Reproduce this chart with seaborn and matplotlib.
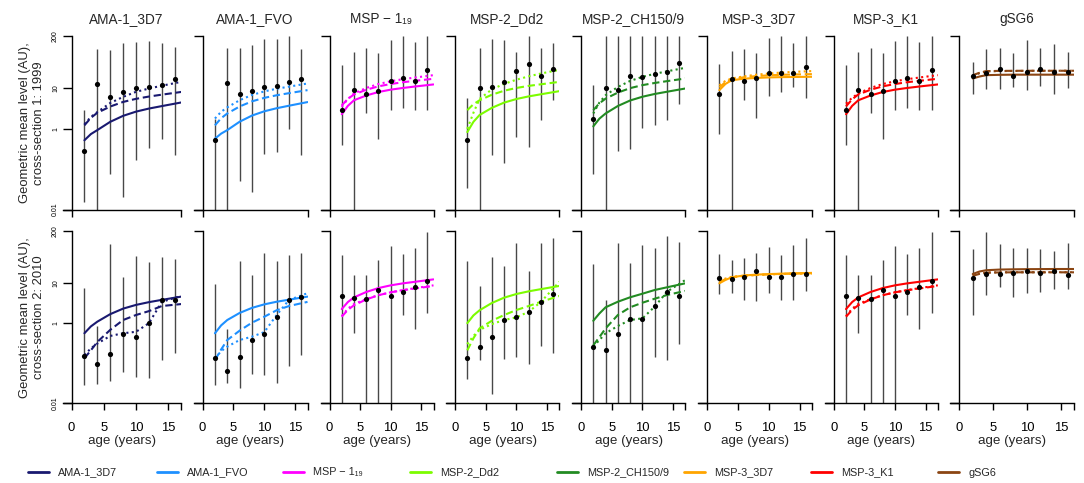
import matplotlib
matplotlib.use("Agg")
import matplotlib.pyplot as plt
from matplotlib.lines import Line2D
from matplotlib.ticker import NullLocator, FixedLocator
from matplotlib.transforms import blended_transform_factory
import seaborn as sns

# ---------------------------------------------------------------- data
antigens = ["AMA-1_3D7", "AMA-1_FVO", "MSP \u2212 1\u2081\u2089", "MSP-2_Dd2",
            "MSP-2_CH150/9", "MSP-3_3D7", "MSP-3_K1", "gSG6"]
colors = ["#191970", "#1E90FF", "#FF00FF", "#7CFC00",
          "#228B22", "#FFA500", "#FF0000", "#8B4513"]

age_groups = [2, 4, 6, 8, 10, 12, 14, 16]
fit_ages = [2, 3, 4, 6, 8, 10, 12, 14, 17]

# cross-section 1 (1999): geometric means and 95% ranges per age group
gm_1999 = [
    [0.29, 12.8, 6.0, 8.4, 10.0, 10.6, 12.0, 16.7],
    [0.52, 13.8, 7.2, 8.7, 10.6, 11.4, 14.1, 17.0],
    [3.0, 9.4, 7.5, 8.6, 15.5, 18.0, 14.9, 28.5],
    [0.52, 10.0, 10.6, 14.6, 27.0, 40.0, 19.9, 30.0],
    [1.8, 10.0, 9.1, 20.0, 19.0, 23.0, 26.0, 44.0],
    [7.3, 17.3, 15.2, 18.7, 24.4, 24.4, 24.4, 34.5],
    [3.0, 9.4, 7.5, 8.6, 15.5, 18.0, 14.9, 28.5],
    [20.6, 24.0, 29.6, 20.0, 25.0, 30.0, 26.0, 26.0],
]
lo_1999 = [
    [0.015, 0.01, 0.078, 0.021, 0.17, 0.34, 0.57, 0.23],
    [0.01, 0.01, 0.052, 0.027, 0.24, 0.26, 1.0, 0.22],
    [0.40, 0.01, 2.5, 0.57, 3.0, 3.2, 3.0, 2.9],
    [0.035, 0.01, 0.23, 0.145, 0.63, 0.35, 1.7, 5.1],
    [0.077, 0.01, 0.29, 0.32, 1.07, 1.27, 1.7, 4.2],
    [0.76, 0.01, 5.1, 1.86, 6.5, 8.2, 10.6, 5.8],
    [0.40, 0.01, 2.5, 0.57, 3.0, 3.2, 3.0, 2.9],
    [7.5, 9.6, 9.6, 10.6, 9.1, 11.4, 7.1, 10.0],
]
hi_1999 = [
    [2.9, 95, 90, 136, 145, 150, 131, 105],
    [1.8, 99, 99, 119, 166, 166, 200, 93],
    [38, 81, 99, 74, 158, 200, 145, 200],
    [5.8, 99, 166, 158, 81, 200, 103, 136],
    [12, 200, 200, 200, 200, 200, 200, 200],
    [40, 86, 93, 77, 175, 200, 131, 200],
    [38, 81, 99, 74, 150, 200, 145, 200],
    [45, 93, 103, 74, 158, 103, 126, 81],
]

# cross-section 2 (2010)
gm_2010 = [
    [0.154, 0.094, 0.173, 0.53, 0.44, 1.03, 3.9, 3.8],
    [0.133, 0.065, 0.146, 0.37, 0.53, 1.45, 3.9, 4.6],
    [4.8, 4.3, 4.0, 6.8, 4.8, 5.9, 7.9, 11.3],
    [0.133, 0.26, 0.46, 1.2, 1.4, 1.93, 3.3, 5.3],
    [0.26, 0.21, 0.53, 1.25, 1.27, 2.7, 5.9, 4.85],
    [13.7, 12.6, 14.5, 20.0, 14.5, 14.0, 16.9, 17.0],
    [4.8, 4.3, 4.0, 6.8, 4.8, 5.9, 7.9, 11.3],
    [13.2, 16.9, 17.0, 17.5, 20.0, 17.8, 20.0, 16.2],
]
lo_2010 = [
    [0.028, 0.030, 0.036, 0.059, 0.045, 0.042, 0.12, 0.18],
    [0.028, 0.033, 0.024, 0.054, 0.05, 0.033, 0.085, 0.16],
    [0.01, 0.56, 0.01, 0.01, 0.01, 1.6, 0.71, 1.76],
    [0.040, 0.12, 0.017, 0.126, 0.14, 0.095, 0.27, 0.18],
    [0.01, 0.01, 0.01, 0.01, 0.01, 0.14, 0.12, 0.30],
    [5.2, 5.8, 3.9, 3.6, 5.6, 3.9, 3.9, 6.5],
    [0.01, 0.56, 0.01, 0.01, 0.01, 1.6, 0.71, 1.76],
    [1.6, 5.0, 7.9, 4.6, 5.6, 6.1, 7.0, 7.0],
]
hi_2010 = [
    [7.4, 0.85, 93, 14, 47.5, 34, 46, 39],
    [9.5, 0.70, 36, 15.8, 57, 36, 50, 55],
    [50, 15.8, 15.8, 38, 86, 52, 74, 193],
    [35.5, 8.6, 46, 27, 99, 20, 99, 131],
    [30, 3.9, 99, 32, 91, 74, 150, 108],
    [53, 38, 42, 55, 78, 50, 89, 136],
    [50, 15.8, 15.6, 38, 86, 52, 74, 193],
    [70, 193, 93, 77, 74, 70, 63, 100],
]

# fitted curves evaluated at fit_ages (solid / dashed / dotted models)
solid_1999 = [
    [0.52, 0.74, 0.93, 1.49, 2.1, 2.67, 3.18, 3.66, 4.5],
    [0.57, 0.76, 0.93, 1.5, 2.13, 2.72, 3.24, 3.74, 4.6],
    [2.3, 3.71, 5.1, 6.7, 8.17, 9.35, 10.3, 11.2, 12.6],
    [0.83, 1.49, 2.2, 3.31, 4.47, 5.48, 6.37, 7.19, 8.6],
    [1.15, 1.79, 2.4, 3.68, 5.04, 6.24, 7.31, 8.3, 10.0],
    [9.1, 13.0, 16.0, 17.5, 18.3, 18.8, 19.1, 19.3, 19.5],
    [2.3, 3.71, 5.1, 6.7, 8.17, 9.35, 10.3, 11.2, 12.6],
    [17.7, 19.8, 21.4, 21.8, 22.0, 22.0, 22.0, 22.0, 22.0],
]
dashed_1999 = [
    [1.22, 1.87, 2.5, 3.57, 4.64, 5.54, 6.31, 7.03, 8.2],
    [1.22, 1.83, 2.4, 3.58, 4.8, 5.86, 6.79, 7.65, 9.1],
    [3.8, 5.53, 7.1, 9.29, 11.3, 12.9, 14.3, 15.5, 17.4],
    [2.9, 4.07, 5.1, 7.0, 8.8, 10.3, 11.6, 12.7, 14.6],
    [2.9, 4.3, 5.6, 7.9, 10.2, 12.1, 13.7, 15.2, 17.7],
    [10.6, 14.5, 17.0, 19.0, 20.3, 21.2, 21.8, 22.2, 22.7],
    [3.6, 5.4, 7.1, 9.29, 11.3, 12.9, 14.3, 15.5, 17.4],
    [21.4, 24.5, 27.0, 27.3, 27.4, 27.5, 27.5, 27.5, 27.5],
]
dotted_1999 = [
    [1.3, 1.97, 2.6, 4.36, 6.2, 8.26, 9.98, 11.7, 14.6],
    [1.8, 2.64, 3.4, 5.12, 6.9, 8.47, 9.86, 11.1, 13.3],
    [3.5, 5.5, 7.5, 10.3, 12.9, 15.1, 17.0, 18.7, 21.4],
    [1.0, 2.5, 5.5, 9.5, 13.0, 16.5, 20.0, 23.5, 29.0],
    [2.4, 4.49, 6.8, 10.9, 15.4, 19.4, 23.1, 26.6, 32.6],
    [12.0, 15.5, 17.7, 20.0, 22.0, 23.5, 24.8, 25.8, 27.0],
    [4.2, 5.9, 7.5, 10.3, 12.9, 15.1, 17.0, 18.7, 21.4],
    [20.5, 24.0, 26.5, 27.0, 27.2, 27.3, 27.4, 27.5, 27.5],
]
solid_2010 = [
    [0.56, 0.83, 1.09, 1.68, 2.31, 2.86, 3.35, 3.82, 4.6],
    [0.56, 0.88, 1.2, 1.8, 2.41, 2.95, 3.43, 3.86, 4.6],
    [2.25, 3.37, 4.4, 6.0, 7.53, 8.8, 9.86, 10.8, 12.4],
    [1.0, 1.56, 2.1, 3.19, 4.34, 5.35, 6.24, 7.08, 8.5],
    [1.15, 1.75, 2.49, 3.43, 4.43, 5.44, 6.73, 7.86, 9.9],
    [9.9, 12.0, 14.0, 15.5, 16.3, 16.8, 17.2, 17.5, 18.0],
    [2.25, 3.37, 4.4, 6.0, 7.53, 8.8, 9.86, 10.8, 12.4],
    [16.9, 19.5, 21.0, 21.8, 22.1, 22.3, 22.4, 22.5, 22.5],
]
dashed_2010 = [
    [0.133, 0.21, 0.34, 0.68, 1.2, 1.6, 2.0, 2.68, 3.0],
    [0.12, 0.22, 0.38, 0.65, 1.03, 1.45, 2.1, 2.68, 3.4],
    [1.45, 2.15, 2.8, 3.91, 4.99, 5.89, 6.65, 7.35, 8.5],
    [0.21, 0.42, 0.74, 1.15, 1.6, 2.13, 2.68, 3.43, 4.77],
    [0.28, 0.45, 0.74, 1.6, 2.49, 3.24, 4.08, 5.05, 6.4],
    [10.8, 12.5, 14.0, 15.2, 16.0, 16.5, 17.0, 17.3, 17.7],
    [1.45, 2.15, 2.8, 3.91, 4.99, 5.89, 6.65, 7.35, 8.5],
    [15.2, 17.0, 18.2, 18.5, 18.6, 18.6, 18.6, 18.6, 18.6],
]
dotted_2010 = [
    [0.16, 0.235, 0.31, 0.48, 0.56, 0.61, 1.0, 3.4, 4.8],
    [0.133, 0.2, 0.26, 0.38, 0.46, 0.6, 1.6, 3.8, 5.6],
    [1.5, 2.3, 3.0, 4.0, 5.0, 5.9, 6.7, 7.5, 8.8],
    [0.30, 0.48, 0.68, 0.95, 1.2, 1.4, 1.93, 3.4, 10.8],
    [0.26, 0.38, 0.56, 0.85, 1.2, 1.32, 2.58, 6.1, 12.0],
    [11.7, 13.0, 14.3, 15.3, 16.0, 16.5, 16.9, 17.2, 17.4],
    [1.5, 2.3, 3.0, 4.0, 5.0, 5.9, 6.7, 7.5, 8.8],
    [15.5, 17.2, 18.3, 18.6, 18.7, 18.7, 18.7, 18.7, 18.7],
]

row_labels = ["Geometric mean level (AU),\ncross-section 1: 1999",
              "Geometric mean level (AU),\ncross-section 2: 2010"]
y_tick_values = [0.01, 1, 10, 200]
y_tick_labels = ["0.01", "1", "10", "200"]
x_tick_values = [0, 5, 10, 15, 17]
x_tick_labels = ["0", "5", "10", "15", ""]

# ---------------------------------------------------------------- style
sns.set_theme(style="ticks")
plt.rcParams["font.family"] = ["Liberation Sans", "DejaVu Sans"]
plt.rcParams["axes.linewidth"] = 1.0

W, H = 1084, 483
fig = plt.figure(figsize=(W / 100, H / 100), dpi=100)

# panel geometry in pixels: position of age 0 and age 17 per column
col_x0 = [71.5, 202.6, 329.5, 455.0, 581.0, 707.0, 833.8, 959.2]
col_x17 = [181.2, 307.5, 433.5, 559.4, 685.4, 811.9, 937.8, 1074.3]
row_top = [36.0, 231.0]
row_bottom = [209.5, 403.3]
axis_overhang = 9.0
title_baseline = 22.8

dash_long = (0, (3.5, 1.8))
dash_dot = (0, (1.0, 1.6))

rows = [
    (gm_1999, lo_1999, hi_1999, solid_1999, dashed_1999, dotted_1999),
    (gm_2010, lo_2010, hi_2010, solid_2010, dashed_2010, dotted_2010),
]

for r, (gm, lo, hi, sol, das, dot) in enumerate(rows):
    for c in range(8):
        ppy = (col_x17[c] - col_x0[c]) / 17.0
        left = col_x0[c] - axis_overhang
        height_px = row_bottom[r] - row_top[r]
        rect = [left / W, 1 - row_bottom[r] / H,
                (col_x17[c] - left) / W, height_px / H]
        ax = fig.add_axes(rect)
        ax.set_yscale("log")
        ax.set_xlim(-axis_overhang / ppy, 17)
        ax.set_ylim(0.01, 200)

        ax.vlines(age_groups, lo[c], hi[c], colors="#484848", lw=1.0, zorder=1)
        for vals, ls in ((sol[c], "-"), (das[c], dash_long), (dot[c], dash_dot)):
            sns.lineplot(x=fit_ages, y=vals, ax=ax, color=colors[c], lw=1.5,
                         linestyle=ls, sort=False, estimator=None, legend=False,
                         zorder=2)
        sns.scatterplot(x=age_groups, y=gm[c], ax=ax, color="black", s=14,
                        linewidth=0, zorder=3, legend=False)

        # axes in base-graphics fashion
        for side in ("top", "right"):
            ax.spines[side].set_visible(False)
        ax.spines["left"].set_position(("data", 0))
        ax.spines["left"].set_color("black")
        ax.spines["bottom"].set_color("black")
        ax.yaxis.set_minor_locator(NullLocator())
        ax.xaxis.set_minor_locator(NullLocator())
        ax.set_xlabel("")
        ax.set_ylabel("")

        if c == 0:
            ax.yaxis.set_major_locator(FixedLocator(y_tick_values))
            ax.set_yticklabels(y_tick_labels, rotation=90, va="center",
                               fontsize=5.0)
        else:
            ax.yaxis.set_major_locator(FixedLocator([0.01, 200]))
            ax.set_yticklabels([])
        ax.tick_params(axis="y", length=6.5, width=1.0, pad=2.5, colors="black")

        if r == 1:
            ax.xaxis.set_major_locator(FixedLocator(x_tick_values))
            ax.set_xticklabels(x_tick_labels, fontsize=9.4)
            ax.set_xlabel("age (years)", fontsize=9.6, labelpad=0.5)
        else:
            ax.xaxis.set_major_locator(FixedLocator([0, 17]))
            ax.set_xticklabels([])
            title_tr = blended_transform_factory(ax.transData, ax.transAxes)
            ax.text(8.5, 1 + (row_top[r] - title_baseline) / height_px,
                    antigens[c], transform=title_tr, ha="center",
                    va="baseline", fontsize=9.8, clip_on=False)
        ax.tick_params(axis="x", length=4.7, width=1.0, pad=9.0, colors="black")

    fig.text(32 / W, 1 - (row_top[r] + row_bottom[r]) / 2 / H, row_labels[r],
             rotation=90, ha="center", va="center", fontsize=9.4,
             multialignment="center")

# legend: one entry per antigen, evenly spaced along the bottom
legend_x = [28, 157, 283, 410, 557, 684, 811, 938]
legend_y = 472.5
for c in range(8):
    handle = Line2D([], [], color=colors[c], lw=2.0)
    fig.legend([handle], [antigens[c]], loc="center left",
               bbox_to_anchor=(legend_x[c] / W, 1 - legend_y / H), frameon=False,
               fontsize=7.8, handlelength=1.95, handletextpad=0.85,
               borderpad=0, borderaxespad=0)

fig.savefig("out.png", dpi=100)
